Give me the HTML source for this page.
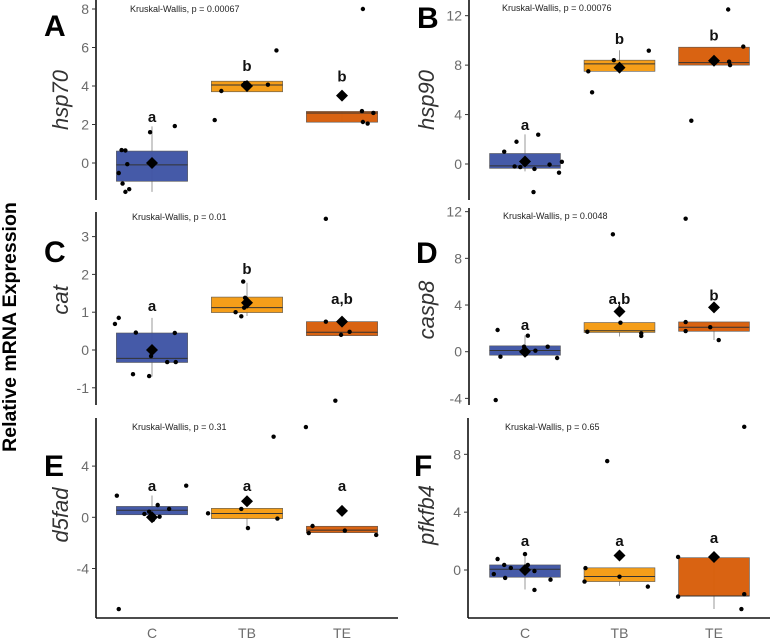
<!DOCTYPE html>
<html><head><meta charset="utf-8"><style>
body{margin:0;background:#fff;width:772px;height:640px;overflow:hidden}
svg{display:block;font-family:"Liberation Sans",sans-serif}
</style></head><body>
<svg id="chart" width="772" height="640"></svg>
<script>
const groups=["C","TB","TE"];
const fills=["#3F55A5","#F59B12","#D85E0A"];
// per panel: [q1, median, q3, whiskerLo, whiskerHi]
const hsp70_box=[[-0.95,-0.1,0.62,-1.5,1.9],[3.7,4.05,4.25,3.7,4.25],[2.12,2.6,2.68,2.12,2.68]];
const hsp70_mean=[0,4.0,3.5];
const hsp70_pts=[[-0.52,-1.07,-1.5,-1.36,0.67,0.65,-0.06,1.6,1.92],[2.23,3.74,4.15,4.05,4.07,5.85],[8.0,2.7,2.13,2.05,2.6]];
const hsp70_jit=[[-0.35,-0.31,-0.28,-0.24,-0.32,-0.28,-0.26,-0.02,0.24],[-0.34,-0.27,-0.02,-0.04,0.22,0.31],[0.22,0.21,0.22,0.27,0.33]];
const hsp70_let=["a","b","b"];const hsp70_lety=[2.4,5.05,4.5];
const hsp70_ticks=[0,2,4,6,8];

const hsp90_box=[[-0.35,-0.15,0.85,-0.6,2.4],[7.5,8.1,8.4,7.5,9.2],[8.0,8.2,9.45,8.0,9.45]];
const hsp90_mean=[0.2,7.8,8.35];
const hsp90_pts=[[1.0,1.8,-0.2,-0.25,-0.4,2.37,-2.27,-0.05,-0.7,0.18],[7.5,5.8,8.4,9.17,7.8],[12.5,3.5,8.28,8.0,9.5]];
const hsp90_jit=[[-0.22,-0.09,-0.11,-0.05,0.1,0.14,0.09,0.26,0.36,0.39],[-0.33,-0.29,-0.06,0.31,0.02],[0.15,-0.24,0.16,0.17,0.31]];
const hsp90_let=["a","b","b"];const hsp90_lety=[3.15,10.1,10.4];
const hsp90_ticks=[0,4,8,12];

const cat_box=[[-0.33,-0.22,0.45,-0.7,0.85],[0.99,1.12,1.4,0.9,1.78],[0.38,0.47,0.75,0.38,0.75]];
const cat_mean=[0,1.25,0.75];
const cat_pts=[[0.69,0.85,0.46,-0.64,-0.69,-0.16,-0.32,-0.32,0.45],[1.81,1.38,1.12,1.0,0.89],[3.47,0.75,0.4,0.48,-1.34]];
const cat_jit=[[-0.39,-0.35,-0.17,-0.2,-0.03,-0.01,0.16,0.25,0.24],[-0.04,-0.02,-0.03,-0.12,-0.06],[-0.17,-0.17,-0.01,0.08,-0.07]];
const cat_let=["a","b","a,b"];const cat_lety=[1.16,2.14,1.35];
const cat_ticks=[-1,0,1,2,3];

const casp8_box=[[-0.3,0.1,0.5,-0.3,1.4],[1.65,1.8,2.5,1.3,2.5],[1.75,2.1,2.55,1.0,2.55]];
const casp8_mean=[0,3.45,3.8];
const casp8_pts=[[1.86,-0.43,1.37,0.43,-0.2,0.09,0.43,-0.54,-4.14],[10.06,1.71,2.49,1.57,1.35],[11.4,2.54,1.77,2.1,1.0]];
const casp8_jit=[[-0.29,-0.26,0.03,-0.01,0.01,0.11,0.24,0.34,-0.31],[-0.07,-0.34,0.01,0.23,0.23],[-0.3,-0.3,-0.3,-0.04,0.05]];
const casp8_let=["a","a,b","b"];const casp8_lety=[2.3,4.5,4.8];
const casp8_ticks=[-4,0,4,8,12];

const d5fad_box=[[0.2,0.55,0.85,-0.1,1.7],[-0.1,0.3,0.7,-0.8,0.7],[-1.2,-1.0,-0.7,-1.2,-0.7]];
const d5fad_mean=[0,1.25,0.5];
const d5fad_pts=[[1.69,-7.17,0.26,0.44,0.96,0.05,0.65,2.47,-0.2],[0.31,0.65,-0.84,-0.1,6.3],[7.05,-0.68,-1.23,-1.04,-1.38]];
const d5fad_jit=[[-0.37,-0.35,-0.08,-0.03,0.06,0.08,0.18,0.36,0.01],[-0.41,-0.06,0.01,0.32,0.28],[-0.38,-0.31,-0.35,0.03,0.36]];
const d5fad_let=["a","a","a"];const d5fad_lety=[2.45,2.45,2.45];
const d5fad_ticks=[-4,0,4];

const pfkfb4_box=[[-0.5,0.05,0.35,-1.35,1.1],[-0.8,-0.45,0.15,-1.1,0.15],[-1.8,-1.8,0.85,-2.7,0.85]];
const pfkfb4_mean=[0,1.0,0.9];
const pfkfb4_pts=[[0.76,-0.28,0.35,-0.55,0.14,1.1,0.35,-0.07,-1.38,-0.67],[0.13,-0.8,-0.46,-1.15,7.53],[9.9,0.9,-1.84,-1.67,-2.7]];
const pfkfb4_jit=[[-0.29,-0.33,-0.22,-0.21,-0.15,0,0.03,0.1,0.1,0.27],[-0.36,-0.37,0,0.3,-0.13],[0.32,-0.38,-0.38,0.32,0.29]];
const pfkfb4_let=["a","a","a"];const pfkfb4_lety=[2.0,2.0,2.23];
const pfkfb4_ticks=[0,4,8];

const svg=document.getElementById('chart');
const NS="http://www.w3.org/2000/svg";
function mk(tag,attrs,parent){const e=document.createElementNS(NS,tag);for(const k in attrs)e.setAttribute(k,attrs[k]);(parent||svg).appendChild(e);return e;}

function panel(cfg){
  const g=mk('g',{});
  
  
  const y=v=>cfg.zeroY-v*cfg.ppu;
  const x=(i,j)=>cfg.cx0+(i+j)*cfg.step;
  const ax=mk('line',{x1:cfg.axX,x2:cfg.axX,y1:cfg.top,y2:cfg.bot,stroke:'#111','stroke-width':1.6},g);
  
  
  cfg.ticks.forEach(t=>{
    mk('line',{x1:cfg.axX-4,x2:cfg.axX,y1:y(t),y2:y(t),stroke:'#333','stroke-width':1},g);
    const tx=mk('text',{x:cfg.axX-7,y:y(t)+5,'text-anchor':'end','font-size':14,fill:'#6b6b6b'},g);
    tx.textContent=t;
    
    
  });
  if(cfg.xaxis){
    const xl=mk('line',{x1:cfg.axX,x2:cfg.axX+302,y1:cfg.bot,y2:cfg.bot,stroke:'#111','stroke-width':1.6},g);
    
    
    groups.forEach((n,i)=>{
      const tx=mk('text',{x:x(i,0),y:cfg.bot+20,'text-anchor':'middle','font-size':14,fill:'#6b6b6b'},g);
      tx.textContent=n;
      
      
    });
  }
  const bw=cfg.step*0.75;
  cfg.box.forEach((b,i)=>{
    const cx=x(i,0);
    mk('line',{x1:cx,x2:cx,y1:y(b[3]),y2:y(b[4]),stroke:'#999','stroke-width':1},g);
    const r=mk('rect',{x:cx-bw/2,y:y(b[2]),width:bw,height:Math.max(1,y(b[0])-y(b[2])),fill:fills[i],stroke:'#555','stroke-width':0.6,'fill-opacity':0.97},g);
    
    
    mk('line',{x1:cx-bw/2,x2:cx+bw/2,y1:y(b[1]),y2:y(b[1]),stroke:'#333','stroke-width':1},g);
    cfg.pts[i].forEach((p,k)=>{
      const c=mk('circle',{cx:x(i,cfg.jit[i][k]),cy:y(p),r:2.2,fill:'#000'},g);
      
      
    });
    const my=y(cfg.mean[i]),s=6;
    const d=mk('polygon',{points:`${cx},${my-s} ${cx+s},${my} ${cx},${my+s} ${cx-s},${my}`,fill:'#000'},g);
    
    
    const lt=mk('text',{x:cx,y:y(cfg.lety[i])+5,'text-anchor':'middle','font-size':15,'font-weight':'bold',fill:'#111'},g);
    lt.textContent=cfg.let[i];
    
    
  });
  const kw=mk('text',{x:cfg.kx,y:cfg.ky,'font-size':9,fill:'#222'},g);
  kw.textContent=cfg.kw;
  
  
  const pl=mk('text',{x:cfg.lx,y:cfg.ly,'font-size':30,'font-weight':'bold',fill:'#000'},g);
  pl.textContent=cfg.letter;
  
  
  const gy=mk('text',{x:0,y:0,'font-size':22,'font-style':'italic',fill:'#333','text-anchor':'middle',transform:`translate(${cfg.gx},${cfg.gy}) rotate(-90)`},g);
  gy.textContent=cfg.gene;
  
  
}

panel({gene:'hsp70',letter:'A',box:hsp70_box,mean:hsp70_mean,pts:hsp70_pts,jit:hsp70_jit,let:hsp70_let,lety:hsp70_lety,ticks:hsp70_ticks,
  zeroY:163,ppu:19.25,axX:96,top:0,bot:200,cx0:152,step:95,kx:130,ky:12,kw:'Kruskal-Wallis, p = 0.00067',lx:44,ly:36,gx:68,gy:100});
panel({gene:'hsp90',letter:'B',box:hsp90_box,mean:hsp90_mean,pts:hsp90_pts,jit:hsp90_jit,let:hsp90_let,lety:hsp90_lety,ticks:hsp90_ticks,
  zeroY:164,ppu:12.36,axX:469,top:0,bot:200,cx0:525,step:94.5,kx:502,ky:11,kw:'Kruskal-Wallis, p = 0.00076',lx:417,ly:28,gx:434,gy:100});
panel({gene:'cat',letter:'C',box:cat_box,mean:cat_mean,pts:cat_pts,jit:cat_jit,let:cat_let,lety:cat_lety,ticks:cat_ticks,
  zeroY:350,ppu:37.8,axX:96,top:212,bot:405,cx0:152,step:95,kx:132,ky:220,kw:'Kruskal-Wallis, p = 0.01',lx:44,ly:262,gx:68,gy:300});
panel({gene:'casp8',letter:'D',box:casp8_box,mean:casp8_mean,pts:casp8_pts,jit:casp8_jit,let:casp8_let,lety:casp8_lety,ticks:casp8_ticks,
  zeroY:351.7,ppu:11.67,axX:469,top:208,bot:405,cx0:525,step:94.5,kx:503,ky:219,kw:'Kruskal-Wallis, p = 0.0048',lx:416,ly:263,gx:434,gy:310});
panel({gene:'d5fad',letter:'E',box:d5fad_box,mean:d5fad_mean,pts:d5fad_pts,jit:d5fad_jit,let:d5fad_let,lety:d5fad_lety,ticks:d5fad_ticks,
  zeroY:517.3,ppu:12.8,axX:96,top:418,bot:618,cx0:152,step:95,kx:132,ky:430,kw:'Kruskal-Wallis, p = 0.31',lx:44,ly:476,gx:68,gy:515,xaxis:true});
panel({gene:'pfkfb4',letter:'F',box:pfkfb4_box,mean:pfkfb4_mean,pts:pfkfb4_pts,jit:pfkfb4_jit,let:pfkfb4_let,lety:pfkfb4_lety,ticks:pfkfb4_ticks,
  zeroY:570,ppu:14.46,axX:468,top:418,bot:618,cx0:525,step:94.5,kx:505,ky:430,kw:'Kruskal-Wallis, p = 0.65',lx:414,ly:476,gx:434,gy:515,xaxis:true});

const yt=mk('text',{x:0,y:0,'font-size':19.5,'font-weight':'bold',fill:'#000','text-anchor':'middle',transform:'translate(16,327) rotate(-90)'});
yt.textContent='Relative mRNA Expression';


</script>
</body></html>
